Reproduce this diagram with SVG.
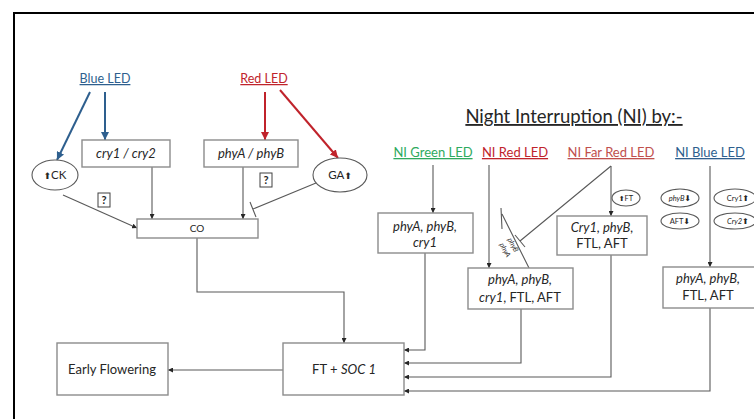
<svg xmlns="http://www.w3.org/2000/svg" width="754" height="419" viewBox="0 0 754 419">
<style>
text{font-family:Lato,"Open Sans","Liberation Sans",sans-serif;fill:#262626;text-anchor:middle}
.box{fill:#fff;stroke:#8c8c8c;stroke-width:1.4}
.ell{fill:#fff;stroke:#595959;stroke-width:1.1}
.c{fill:none;stroke:#595959;stroke-width:1.1}
.i{font-style:italic}
.t{font-size:13px}
.ico{font-family:"DejaVu Sans",sans-serif}
.u{text-decoration:underline}
</style>
<defs>
<marker id="a" viewBox="0 0 6 6" refX="6" refY="3" markerWidth="5" markerHeight="5" markerUnits="userSpaceOnUse" orient="auto"><path d="M0,0L6,3L0,6z" fill="#262626"/></marker>
<marker id="ab" viewBox="0 0 6 6" refX="6" refY="3" markerWidth="8" markerHeight="8" markerUnits="userSpaceOnUse" orient="auto"><path d="M0,0L6,3L0,6z" fill="#2e5f8e"/></marker>
<marker id="ar" viewBox="0 0 6 6" refX="6" refY="3" markerWidth="8" markerHeight="8" markerUnits="userSpaceOnUse" orient="auto"><path d="M0,0L6,3L0,6z" fill="#c0232b"/></marker>
</defs>
<rect width="754" height="419" fill="#fff"/>
<rect x="14" y="13" width="800" height="500" fill="none" stroke="#000" stroke-width="2"/>

<g id="connectors">
<path d="M90,92L57,160" fill="none" stroke="#2e5f8e" stroke-width="2" marker-end="url(#ab)"/>
<path d="M105,92V140" fill="none" stroke="#2e5f8e" stroke-width="2" marker-end="url(#ab)"/>
<path d="M265,92V140" fill="none" stroke="#c0232b" stroke-width="2" marker-end="url(#ar)"/>
<path d="M280,90L338,158" fill="none" stroke="#c0232b" stroke-width="2" marker-end="url(#ar)"/>
<path class="c" d="M63,195L137,228" marker-end="url(#a)"/>
<path class="c" d="M152,167V219" marker-end="url(#a)"/>
<path class="c" d="M243,167V219" marker-end="url(#a)"/>
<path class="c" d="M316,183L253,209M250,202L256,217"/>
<path class="c" d="M197,238V292H344V343" marker-end="url(#a)"/>
<path class="c" d="M283,370H168" marker-end="url(#a)"/>
<path class="c" d="M433,165V213" marker-end="url(#a)"/>
<path class="c" d="M425,253V350H404" marker-end="url(#a)"/>
<path class="c" d="M489,165V268" marker-end="url(#a)"/>
<path class="c" d="M521,309V363H404" marker-end="url(#a)"/>
<path class="c" d="M611,166V216" marker-end="url(#a)"/>
<path class="c" d="M611,166L520,241M515,235L525,247"/>
<path class="c" d="M611,255V377H404" marker-end="url(#a)"/>
<path class="c" d="M710,166V267" marker-end="url(#a)"/>
<path class="c" d="M710,308V391H404" marker-end="url(#a)"/>
<path class="c" d="M501,208L502,229M502,214L536,282"/>
<text class="i" font-size="7" transform="translate(511,246) rotate(62)">phyB</text>
<text class="i" font-size="7" transform="translate(503,251) rotate(62)">phyA</text>
</g>

<g id="blue-led"><text x="105" y="83" font-size="12.5" class="u" style="fill:#2e5f8e">Blue LED</text></g>
<g id="red-led"><text x="264" y="83" font-size="12.5" class="u" style="fill:#c0232b">Red LED</text></g>
<g id="cry"><rect class="box" x="82" y="140" width="88" height="27"/><text x="126" y="158" class="t i">cry1 / cry2</text></g>
<g id="phy"><rect class="box" x="204" y="140" width="94" height="27"/><text x="251" y="158" class="t i">phyA / phyB</text></g>
<g id="ck"><ellipse class="ell" cx="55" cy="175" rx="23" ry="15"/><text x="55" y="179" font-size="11.5"><tspan class="ico" font-size="9">⬆</tspan>CK</text></g>
<g id="ga"><ellipse class="ell" cx="340" cy="175" rx="27" ry="17"/><text x="340" y="179" font-size="11.5">GA<tspan class="ico" font-size="9">⬆</tspan></text></g>
<g id="q1"><rect x="98" y="193" width="12" height="14" fill="#fff" stroke="#404040"/><text x="104" y="204" font-size="11" font-weight="bold">?</text></g>
<g id="q2"><rect x="260" y="173" width="12" height="14" fill="#fff" stroke="#404040"/><text x="266" y="184" font-size="11" font-weight="bold">?</text></g>
<g id="co"><rect class="box" x="137" y="219" width="121" height="19"/><text x="197" y="232" font-size="10">CO</text></g>
<g id="ft"><rect class="box" x="283" y="343" width="121" height="52"/><text x="344" y="374" class="t">FT + <tspan class="i">SOC 1</tspan></text></g>
<g id="early"><rect class="box" x="57" y="343" width="111" height="52"/><text x="112" y="374" class="t">Early Flowering</text></g>

<g id="title"><text x="574" y="123" font-size="18.5" class="u">Night Interruption (NI) by:-</text></g>
<g id="ni-green"><text x="433" y="157" font-size="13" class="u" style="fill:#2eaa5e">NI Green LED</text></g>
<g id="ni-red"><text x="515" y="157" font-size="13" class="u" style="fill:#c0232b">NI Red LED</text></g>
<g id="ni-farred"><text x="611" y="157" font-size="13" class="u" style="fill:#c0504d">NI Far Red LED</text></g>
<g id="ni-blue"><text x="710" y="157" font-size="13" class="u" style="fill:#2e5f8e">NI Blue LED</text></g>

<g id="green-box"><rect class="box" x="378" y="213" width="95" height="40"/><text x="425" y="231" class="t i">phyA, phyB,</text><text x="425" y="247" class="t i">cry1</text></g>
<g id="red-box"><rect class="box" x="468" y="268" width="105" height="41"/><text x="520" y="284" class="t i">phyA, phyB,</text><text x="520" y="302" class="t"><tspan class="i">cry1</tspan>, FTL, AFT</text></g>
<g id="farred-box"><rect class="box" x="557" y="216" width="90" height="39"/><text x="602" y="232" class="t i">Cry1, phyB,</text><text x="602" y="248" class="t">FTL, AFT</text></g>
<g id="blue-box"><rect class="box" x="663" y="267" width="92" height="41"/><text x="708" y="283" class="t i">phyA, phyB,</text><text x="708" y="300" class="t">FTL, AFT</text></g>

<g id="ft-up"><ellipse class="ell" cx="626" cy="198" rx="14" ry="8"/><text x="626" y="201" font-size="7.5"><tspan class="ico" font-size="7">⬆</tspan>FT</text></g>
<g id="phyb-down"><ellipse class="ell" cx="680" cy="198" rx="19" ry="9"/><text x="680" y="201" font-size="7.5"><tspan class="i">phyB</tspan><tspan class="ico" font-size="8">⬇</tspan></text></g>
<g id="aft-down"><ellipse class="ell" cx="680" cy="221" rx="19" ry="8"/><text x="680" y="224" font-size="7.5">AFT<tspan class="ico" font-size="8">⬇</tspan></text></g>
<g id="cry1-up"><ellipse class="ell" cx="735" cy="198" rx="21" ry="9"/><text x="738" y="201" font-size="7.5">Cry1<tspan class="ico" font-size="8">⬆</tspan></text></g>
<g id="cry2-up"><ellipse class="ell" cx="735" cy="221" rx="21" ry="8"/><text x="738" y="224" font-size="7.5"><tspan class="i">Cry2</tspan><tspan class="ico" font-size="8">⬆</tspan></text></g>
</svg>
